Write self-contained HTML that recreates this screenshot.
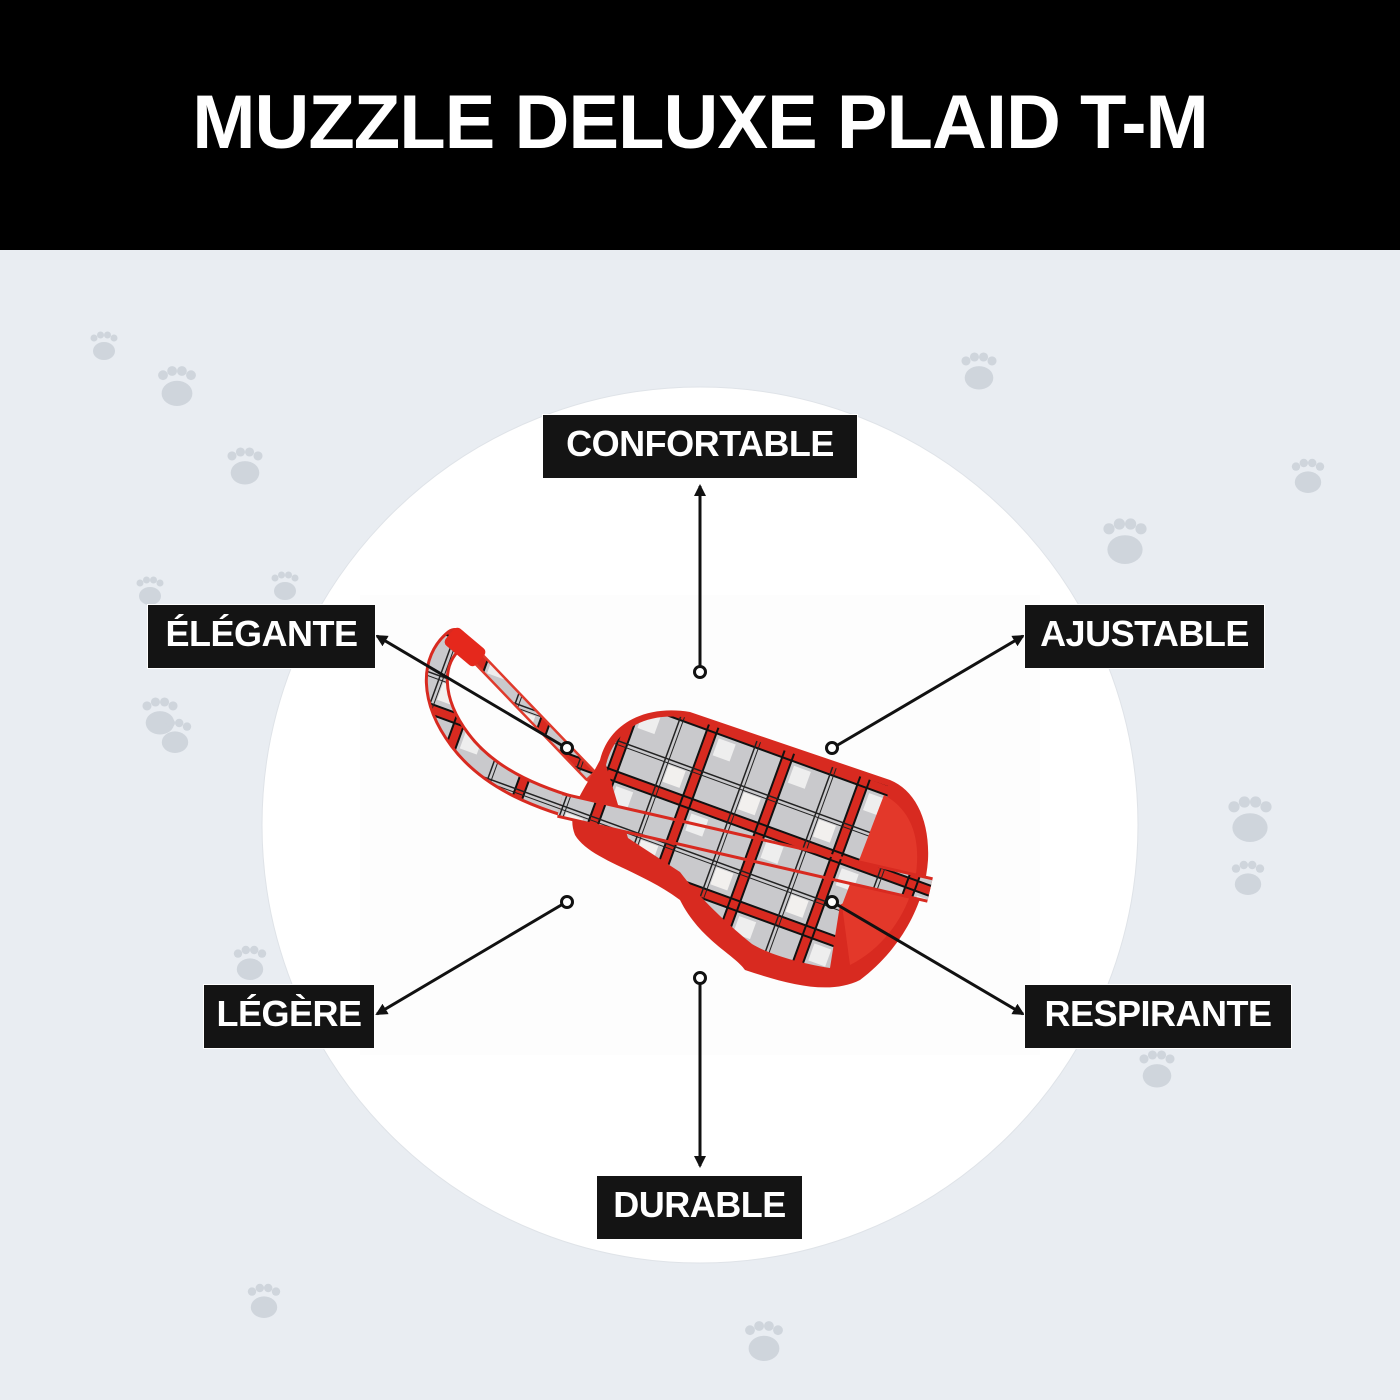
<!DOCTYPE html>
<html><head><meta charset="utf-8"><style>
html,body{margin:0;padding:0}
body{width:1400px;height:1400px;position:relative;overflow:hidden;background:#e9edf2;font-family:"Liberation Sans",sans-serif}
.hdr{position:absolute;left:0;top:0;width:1400px;height:250px;background:#000;color:#fff;text-align:center;font-weight:bold;font-size:76px;line-height:246px;letter-spacing:-1px}
.lb{position:absolute;background:#141414;color:#fff;font-weight:bold;font-size:36px;height:65px;line-height:58px;text-align:center;box-sizing:border-box;border:1px solid #fff;letter-spacing:-0.5px}
svg{position:absolute;left:0;top:0}
</style></head><body>
<div class="hdr">MUZZLE DELUXE PLAID T-M</div>
<svg width="1400" height="1400" viewBox="0 0 1400 1400">
<defs>
<pattern id="pl" width="80" height="80" patternUnits="userSpaceOnUse" patternTransform="rotate(20)">
<rect width="80" height="80" fill="#c9c9cc"/>
<rect x="10" y="10" width="18" height="18" fill="#f2f0ee"/>
<rect x="48" y="48" width="18" height="18" fill="#eeeeee"/>
<rect x="0" y="35" width="80" height="8" fill="#d82a20"/>
<rect x="35" y="0" width="8" height="80" fill="#d82a20"/>
<rect x="0" y="33" width="80" height="2" fill="#111"/><rect x="0" y="43" width="80" height="2" fill="#111"/>
<rect x="33" y="0" width="2" height="80" fill="#111"/><rect x="43" y="0" width="2" height="80" fill="#111"/>
<rect x="0" y="4" width="80" height="1.5" fill="#222"/><rect x="4" y="0" width="1.5" height="80" fill="#222"/>
<rect x="0" y="8" width="80" height="1" fill="#222"/><rect x="8" y="0" width="1" height="80" fill="#222"/>
</pattern>
<g id="paw" fill="#cfd5dc"><ellipse cx="0" cy="6" rx="11" ry="9"/><circle cx="-10" cy="-7" r="3.5"/><circle cx="-3.5" cy="-10" r="3.5"/><circle cx="3.5" cy="-10" r="3.5"/><circle cx="10" cy="-7" r="3.5"/></g>
<marker id="ar" markerWidth="12" markerHeight="12" refX="10" refY="6" orient="auto" markerUnits="userSpaceOnUse"><path d="M0,0 L12,6 L0,12 z" fill="#111"/></marker>
</defs>
<use href="#paw" transform="translate(104,345) scale(1)"/>
<use href="#paw" transform="translate(177,385) scale(1.4)"/>
<use href="#paw" transform="translate(245,465) scale(1.3)"/>
<use href="#paw" transform="translate(150,590) scale(1)"/>
<use href="#paw" transform="translate(285,585) scale(1)"/>
<use href="#paw" transform="translate(160,715) scale(1.3)"/>
<use href="#paw" transform="translate(175,735) scale(1.2)"/>
<use href="#paw" transform="translate(250,962) scale(1.2)"/>
<use href="#paw" transform="translate(264,1300) scale(1.2)"/>
<use href="#paw" transform="translate(764,1340) scale(1.4)"/>
<use href="#paw" transform="translate(979,370) scale(1.3)"/>
<use href="#paw" transform="translate(1125,540) scale(1.6)"/>
<use href="#paw" transform="translate(1308,475) scale(1.2)"/>
<use href="#paw" transform="translate(1250,818) scale(1.6)"/>
<use href="#paw" transform="translate(1248,877) scale(1.2)"/>
<use href="#paw" transform="translate(1157,1068) scale(1.3)"/>
<circle cx="700" cy="825" r="438" fill="#fff" stroke="#dfe3e8" stroke-width="1"/>
<rect x="360" y="595" width="680" height="460" fill="#fdfdfd"/>
<path d="M455,640 C430,660 430,700 460,740 C490,780 540,800 600,815" fill="none" stroke="#d82a20" stroke-width="24" stroke-linecap="round"/>
<path d="M455,640 C430,660 430,700 460,740 C490,780 540,800 600,815" fill="none" stroke="url(#pl)" stroke-width="18" stroke-linecap="round"/>
<path d="M470,650 L590,775" stroke="#e03a2c" stroke-width="14" stroke-linecap="round"/>
<path d="M470,650 L590,775" stroke="url(#pl)" stroke-width="9"/>
<rect x="445" y="636" width="40" height="22" rx="5" fill="#e5281c" transform="rotate(40 465 647)"/>
<path d="M600,760 C610,720 650,705 690,712 L890,780 C915,790 930,820 928,860 C925,905 900,950 860,980 C830,995 790,985 745,970 C735,955 700,940 680,900 C640,870 590,860 575,835 C565,810 585,790 600,760 Z" fill="#d82a20"/>
<path d="M606,765 C616,724 652,712 690,718 L888,786 L884,880 L840,905 L830,968 C792,962 765,952 752,944 C720,918 695,892 680,872 L628,838 Z" fill="url(#pl)"/>
<path d="M884,795 C912,810 922,840 915,880 C905,920 880,950 850,965 L842,905 Z" fill="#e3382a"/>
<path d="M560,805 L930,890" stroke="#d82a20" stroke-width="26"/>
<path d="M560,805 L930,890" stroke="url(#pl)" stroke-width="20"/>
<g stroke="#111" stroke-width="3" fill="none">
<line x1="700" y1="667" x2="700" y2="486" marker-end="url(#ar)"/>
<line x1="700" y1="983" x2="700" y2="1166" marker-end="url(#ar)"/>
<line x1="836" y1="746" x2="1023" y2="636" marker-end="url(#ar)"/>
<line x1="563" y1="746" x2="377" y2="636" marker-end="url(#ar)"/>
<line x1="563" y1="904" x2="377" y2="1014" marker-end="url(#ar)"/>
<line x1="836" y1="904" x2="1023" y2="1014" marker-end="url(#ar)"/>
<circle cx="700" cy="672" r="5.5" fill="#fff"/><circle cx="700" cy="978" r="5.5" fill="#fff"/>
<circle cx="832" cy="748" r="5.5" fill="#fff"/><circle cx="567" cy="748" r="5.5" fill="#fff"/>
<circle cx="567" cy="902" r="5.5" fill="#fff"/><circle cx="832" cy="902" r="5.5" fill="#fff"/>
</g>
</svg>
<div class="lb" style="left:542px;top:414px;width:316px">CONFORTABLE</div>
<div class="lb" style="left:147px;top:604px;width:229px">ÉLÉGANTE</div>
<div class="lb" style="left:1024px;top:604px;width:241px">AJUSTABLE</div>
<div class="lb" style="left:203px;top:984px;width:172px">LÉGÈRE</div>
<div class="lb" style="left:1024px;top:984px;width:268px">RESPIRANTE</div>
<div class="lb" style="left:596px;top:1175px;width:207px">DURABLE</div>
</body></html>
